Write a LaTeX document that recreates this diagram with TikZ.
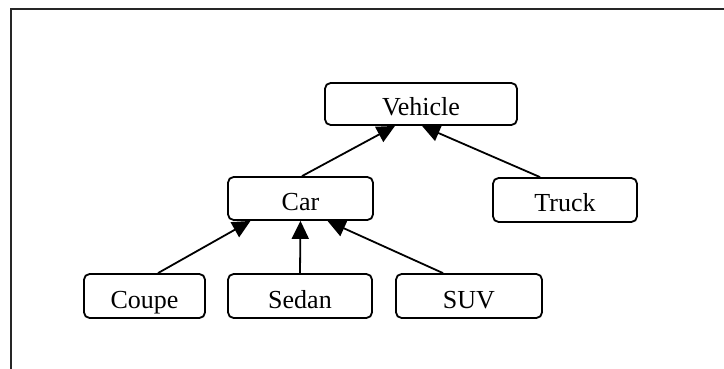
\documentclass[tikz,border=0pt]{standalone}
\usepackage{fontspec}
\setmainfont{Liberation Serif}
\usetikzlibrary{arrows.meta,calc}
\begin{document}
\begin{tikzpicture}[x=0.5pt,y=-0.5pt,
  classbox/.style={draw=black, line width=0.9pt, rounded corners=2.8pt,
    inner sep=0pt, text height=13pt, text depth=1pt,
    font=\fontsize{13}{15}\selectfont},
  inherit/.style={draw=black, line width=0.9pt,
    -{Triangle[length=9pt,width=8.5pt]}},
  frameline/.style={draw=black!85, line width=1.2pt}]
  \useasboundingbox (0,0) rectangle (724,369);
  % open frame: top and left edges only
  \coordinate (fbl) at (11,369);
  \coordinate (ftl) at (11,9);
  \coordinate (ftr) at (724,9);
  \draw[frameline] (fbl) -- (ftl) -- (ftr);

  % class hierarchy
  \node[classbox, minimum width=96pt, minimum height=21pt] (vehicle) at (421,104) {Vehicle};
  \node[classbox, minimum width=72.5pt, minimum height=21.5pt] (car) at (300.5,198.5) {Car};
  \node[classbox, minimum width=72pt, minimum height=22pt] (truck) at (565,200) {Truck};
  \node[classbox, minimum width=60.5pt, minimum height=22pt] (coupe) at (144.5,296) {Coupe};
  \node[classbox, minimum width=72pt, minimum height=22pt] (sedan) at (300,296) {Sedan};
  \node[classbox, minimum width=73pt, minimum height=22pt] (suv) at (469,296) {SUV};

  % generalisation arrows
  \draw[inherit] ($(car.north)+(1.5,0)$) -- ($(vehicle.south)+(-26,0)$);
  \draw[inherit] ($(truck.north)+(-25,0)$) -- ($(vehicle.south)+(1,0)$);
  \draw[inherit] ($(coupe.north)+(13.5,0)$) -- ($(car.south)+(-50,0)$);
  \draw[inherit] (sedan.north) -- (car.south);
  \draw[inherit] ($(suv.north)+(-26,0)$) -- ($(car.south)+(27,0)$);
\end{tikzpicture}
\end{document}
